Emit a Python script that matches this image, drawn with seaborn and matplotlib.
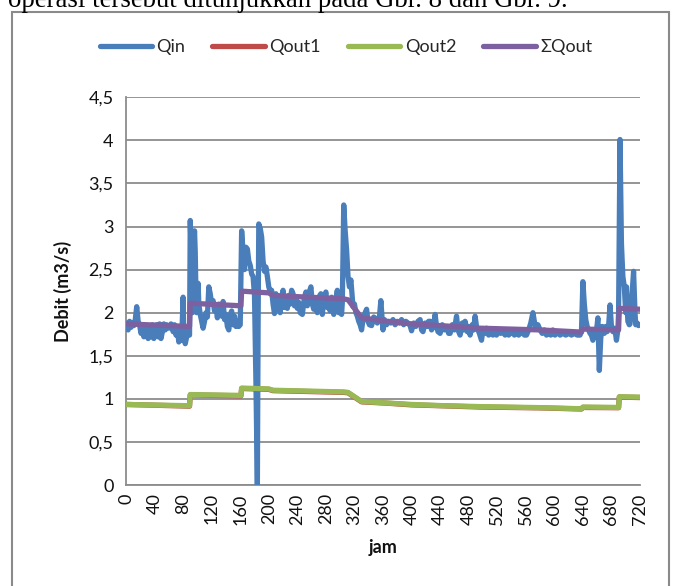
import numpy as np
import pandas as pd
import matplotlib
matplotlib.use("Agg")
import matplotlib.pyplot as plt
import seaborn as sns
from matplotlib.patches import Rectangle
from matplotlib.lines import Line2D
from matplotlib.ticker import FuncFormatter

# ---------------- data ----------------
qin_hours = [0, 2, 3, 5, 7, 9, 11, 13, 15, 17, 19, 21, 23, 25, 27, 29, 31, 33, 35, 37, 39, 41, 43, 45,
             47, 49, 51, 53, 55, 57, 60, 63, 66, 68, 70, 72, 74, 76, 78, 80, 81, 83, 85, 87, 89,
             90, 91, 92, 93, 94, 95, 96, 97, 98, 99, 100, 101, 102, 104, 106, 108, 110, 112, 114, 116,
             118, 120, 122, 124, 126, 128, 130, 132, 134, 136, 138, 140, 142, 144, 146, 148, 150, 152,
             154, 156, 158, 160, 162, 164, 166, 168, 170, 172, 174, 176, 178, 180, 182, 184, 185, 186,
             188, 190, 192, 194, 196, 198, 200, 202, 204, 206, 208, 210, 212, 214, 216, 218, 220, 222,
             224, 226, 228, 230, 232, 234, 236, 238, 240, 242, 244, 247, 250, 252, 254, 256, 259, 261,
             263, 266, 268, 270, 273, 275, 277, 280, 282, 284, 286, 288, 291, 293, 296, 298, 300, 302,
             303, 305, 307, 309, 311, 313, 315, 318, 320, 322, 324, 326, 328, 330, 332, 334, 337, 339,
             341, 344, 347, 350, 352, 355, 357, 359, 360, 362, 365, 368, 371, 374, 377, 380, 383, 386,
             389, 392, 395, 398, 400, 403, 406, 409, 412, 414, 416, 419, 422, 424, 426, 428, 431, 433,
             435, 437, 440, 443, 446, 449, 452, 454, 457, 460, 463, 465, 468, 471, 473, 475, 478, 480,
             482, 485, 487, 489, 491, 493, 495, 498, 500, 503, 505, 508, 511, 514, 517, 519, 522, 525,
             528, 531, 534, 536, 538, 541, 544, 547, 550, 552, 555, 558, 561, 564, 567, 570, 572, 574,
             577, 580, 583, 586, 589, 592, 595, 598, 601, 605, 608, 612, 616, 620, 624, 628, 632, 636,
             638, 640, 642, 644, 646, 648, 650, 652, 654, 656, 658, 660, 661, 663, 665, 667, 668, 670,
             672, 674, 676, 678, 680, 682, 684, 686, 687, 689, 690, 692, 694, 696, 698, 700, 701, 703,
             705, 706, 708, 711, 713, 714, 716, 718, 720]
qin_values = [1.88, 1.84, 1.80, 1.90, 1.83, 1.88, 1.85, 1.92, 2.07, 1.90, 1.86, 1.76, 1.84, 1.72, 1.82,
              1.75, 1.70, 1.82, 1.72, 1.86, 1.70, 1.80, 1.86, 1.72, 1.87, 1.70, 1.78, 1.87, 1.80, 1.86,
              1.82, 1.87, 1.78, 1.86, 1.74, 1.80, 1.66, 1.72, 1.68, 2.18, 1.70, 1.64, 1.72, 1.80, 1.74,
              3.07, 2.80, 2.50, 2.00, 2.40, 2.80, 2.95, 2.70, 2.20, 2.00, 2.10, 2.34, 2.10, 1.98, 1.90,
              1.82, 1.90, 2.00, 1.95, 2.30, 2.22, 2.10, 2.14, 2.02, 2.08, 1.94, 2.10, 2.06, 1.96, 2.13,
              1.92, 1.98, 1.84, 1.80, 1.98, 2.02, 1.86, 1.96, 1.84, 1.90, 1.84, 1.86, 2.95, 2.70, 2.50,
              2.76, 2.74, 2.60, 2.55, 2.45, 2.42, 2.20, 1.20, 0.00, 1.80, 3.03, 2.98, 2.88, 2.60, 2.48,
              2.53, 2.42, 2.30, 2.24, 2.26, 2.10, 1.99, 2.22, 2.06, 2.12, 2.00, 2.18, 2.26, 2.06, 2.14,
              2.05, 2.20, 2.10, 2.26, 2.22, 2.08, 2.16, 2.05, 2.12, 2.00, 1.98, 2.18, 2.24, 2.08, 2.22,
              2.30, 2.10, 2.04, 2.14, 2.00, 2.18, 2.22, 1.98, 2.16, 2.24, 2.06, 2.12, 2.02, 2.18, 1.98,
              2.10, 2.26, 2.00, 2.08, 1.98, 2.12, 3.25, 2.95, 2.73, 2.42, 2.30, 2.38, 2.07, 2.10, 2.00,
              1.96, 1.90, 1.86, 1.80, 1.92, 1.98, 2.04, 1.90, 1.86, 1.85, 1.95, 1.93, 1.88, 1.95, 2.14,
              1.90, 1.80, 1.92, 1.86, 1.90, 1.88, 1.92, 1.86, 1.90, 1.88, 1.92, 1.86, 1.90, 1.88, 1.85,
              1.79, 1.88, 1.84, 1.90, 1.92, 1.80, 1.78, 1.88, 1.84, 1.90, 1.90, 1.80, 1.86, 1.98, 1.84,
              1.78, 1.76, 1.86, 1.80, 1.84, 1.76, 1.76, 1.86, 1.80, 1.96, 1.80, 1.74, 1.88, 1.80, 1.90,
              1.78, 1.84, 1.74, 1.86, 1.80, 1.96, 1.84, 1.80, 1.76, 1.68, 1.80, 1.76, 1.82, 1.74, 1.80,
              1.74, 1.80, 1.74, 1.80, 1.76, 1.80, 1.74, 1.80, 1.74, 1.76, 1.80, 1.74, 1.80, 1.74, 1.76,
              1.80, 1.74, 1.74, 1.80, 1.88, 2.00, 1.90, 1.82, 1.86, 1.80, 1.76, 1.80, 1.74, 1.78, 1.74,
              1.80, 1.74, 1.78, 1.74, 1.76, 1.74, 1.76, 1.74, 1.76, 1.74, 1.74, 1.78, 2.36, 2.10, 1.92,
              1.84, 1.80, 1.76, 1.74, 1.68, 1.80, 1.74, 1.86, 1.94, 1.33, 1.70, 1.84, 1.82, 1.76, 1.84,
              1.78, 1.84, 2.09, 1.84, 1.78, 1.82, 1.74, 1.68, 1.80, 2.00, 4.01, 2.80, 2.42, 2.30, 2.00,
              2.30, 1.90, 1.86, 1.87, 2.10, 2.48, 2.00, 1.86, 1.88, 1.85, 1.86]

qout_hours = [0, 89, 90, 161, 162, 200, 206, 305, 311, 330, 365, 400, 440, 496, 580, 638, 640, 690, 691, 720]
qout1_values = [0.935, 0.915, 1.045, 1.035, 1.120, 1.110, 1.095, 1.075, 1.070, 0.965, 0.950, 0.930,
                0.920, 0.905, 0.895, 0.882, 0.900, 0.897, 1.020, 1.015]
qout2_values = [0.935, 0.920, 1.050, 1.040, 1.125, 1.115, 1.100, 1.080, 1.075, 0.970, 0.952, 0.935,
                0.922, 0.910, 0.898, 0.885, 0.905, 0.900, 1.025, 1.020]
sum_qout_values = [1.87, 1.84, 2.11, 2.08, 2.25, 2.23, 2.20, 2.16, 2.15, 1.94, 1.90, 1.87, 1.85, 1.82,
                   1.80, 1.775, 1.81, 1.80, 2.05, 2.04]

series_names = ["Qin", "Qout1", "Qout2", "\u03a3Qout"]
series_colors = ["#4a7ebb", "#be4b48", "#98b954", "#7d60a0"]
y_ticks = [0, 0.5, 1, 1.5, 2, 2.5, 3, 3.5, 4, 4.5]
x_ticks = list(range(0, 721, 40))

# ---------------- figure ----------------
sns.set_theme(style="white")
plt.rcParams["font.family"] = ["Lato", "DejaVu Sans"]

W, H = 675, 586
fig = plt.figure(figsize=(W / 100, H / 100), dpi=100)
ax = fig.add_axes([126 / W, 1 - 485 / H, (640 - 126) / W, (485 - 97.3) / H])

df_in = pd.DataFrame({"jam": qin_hours, "Q": qin_values})
df_q1 = pd.DataFrame({"jam": qout_hours, "Q": qout1_values})
df_q2 = pd.DataFrame({"jam": qout_hours, "Q": qout2_values})
df_qs = pd.DataFrame({"jam": qout_hours, "Q": sum_qout_values})

lw = 3.8
for df, name, col, z in [(df_in, series_names[0], series_colors[0], 3),
                          (df_q1, series_names[1], series_colors[1], 4),
                          (df_q2, series_names[2], series_colors[2], 5),
                          (df_qs, series_names[3], series_colors[3], 6)]:
    sns.lineplot(data=df, x="jam", y="Q", ax=ax, color=col, lw=lw, label=name,
                 sort=False, estimator=None, zorder=z, solid_joinstyle="round",
                 solid_capstyle="round", legend=False)

ax.set_xlim(0, 720)
ax.set_ylim(0, 4.5)
ax.set_yticks(y_ticks)
ax.set_xticks(x_ticks)
ax.yaxis.set_major_formatter(FuncFormatter(lambda v, p: ("%g" % v).replace(".", ",")))
ax.set_xticklabels([str(t) for t in x_ticks], rotation=90, fontsize=13, color="#111111")
ax.tick_params(axis="y", labelsize=13, labelcolor="#111111", length=0, pad=9)
ax.tick_params(axis="x", length=0, pad=6)
ax.grid(axis="y", color="#8c8c8c", lw=1.3)
ax.grid(axis="x", visible=False)
ax.set_axisbelow(True)
for s in ["top", "right"]:
    ax.spines[s].set_visible(False)
for s in ["left", "bottom"]:
    ax.spines[s].set_color("#8c8c8c")
    ax.spines[s].set_linewidth(1.3)

ax.set_xlabel("jam", fontsize=13, fontweight="bold", color="#111111", labelpad=10)
ax.set_ylabel("Debit (m3/s)", fontsize=13, fontweight="bold", color="#111111", labelpad=12)

handles = [Line2D([], [], color=c, lw=lw, solid_capstyle="round") for c in series_colors]
fig.legend(handles, series_names, loc="center", bbox_to_anchor=(346 / W, 1 - 47 / H), ncol=4,
           frameon=False, fontsize=13, handlelength=2.9, handletextpad=0.25, columnspacing=1.5)

# outer frame of the chart
fig.patches.append(Rectangle((12 / W, -0.05), (669 - 12) / W, 1.05 - 12 / H,
                             transform=fig.transFigure, fill=False, ec="#8a8a8a", lw=1.5))

# cut-off caption line above the chart
t = fig.text(8 / W, 1 - 6.7 / H, "operasi tersebut ditunjukkan pada Gbr. 8 dan Gbr. 9.",
             family="Liberation Serif", fontsize=17, color="black", ha="left", va="baseline")
fig.canvas.draw()
bb = t.get_window_extent()
t.set_fontsize(17 * 559 / bb.width)

fig.savefig("out.png", dpi=100)
